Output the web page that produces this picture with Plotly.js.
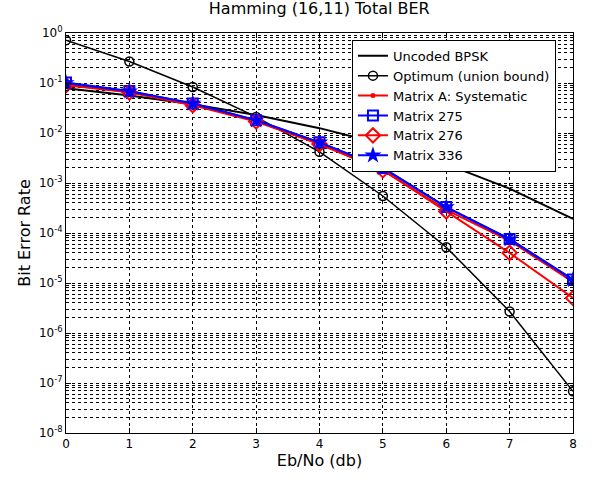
<!DOCTYPE html>
<html>
<head>
<meta charset="utf-8">
<script src="https://cdn.plot.ly/plotly-3.0.1.min.js"></script>
<style>html,body{margin:0;padding:0;background:#fff;}#chart{width:594px;height:479px;}</style>
</head>
<body>
<div id="chart"></div>
<script>
var ebno = [0, 1, 2, 3, 4, 5, 6, 7, 8];
var uncodedBPSK = [0.0786, 0.0563, 0.0375, 0.0229, 0.0125, 0.00595, 0.00239, 0.000773, 0.000191];
var optimumUnion = [0.72, 0.27, 0.083, 0.021, 0.0042, 0.00055, 0.000052, 0.0000027, 0.000000068];
var matrixA = [0.092, 0.066, 0.037, 0.0175, 0.006, 0.0018, 0.00029, 0.000070, 0.0000105];
var matrix275 = [0.102, 0.069, 0.039, 0.018, 0.0065, 0.0020, 0.00033, 0.000076, 0.0000118];
var matrix276 = [0.090, 0.065, 0.036, 0.017, 0.0060, 0.0018, 0.00027, 0.000040, 0.0000050];
var matrix336 = [0.100, 0.068, 0.039, 0.018, 0.0065, 0.0020, 0.00033, 0.000075, 0.0000115];
var yTickVals = [1, 0.1, 0.01, 0.001, 1e-4, 1e-5, 1e-6, 1e-7, 1e-8];
var yTickText = ['10<sup>0</sup>', '10<sup>-1</sup>', '10<sup>-2</sup>', '10<sup>-3</sup>', '10<sup>-4</sup>', '10<sup>-5</sup>', '10<sup>-6</sup>', '10<sup>-7</sup>', '10<sup>-8</sup>'];

var traces = [
  {x: ebno, y: uncodedBPSK, name: 'Uncoded BPSK', mode: 'lines', line: {color: '#000', width: 2}},
  {x: ebno, y: optimumUnion, name: 'Optimum (union bound)', mode: 'lines+markers', line: {color: '#000', width: 1.5}, marker: {symbol: 'circle-open', size: 9, color: '#000', line: {width: 1.5}}},
  {x: ebno, y: matrixA, name: 'Matrix A: Systematic', mode: 'lines+markers', line: {color: '#ff0000', width: 2}, marker: {symbol: 'circle', size: 5, color: '#ff0000'}},
  {x: ebno, y: matrix275, name: 'Matrix 275', mode: 'lines+markers', line: {color: '#0000ff', width: 2}, marker: {symbol: 'square-open', size: 10, color: '#0000ff', line: {width: 2}}},
  {x: ebno, y: matrix276, name: 'Matrix 276', mode: 'lines+markers', line: {color: '#ff0000', width: 2}, marker: {symbol: 'diamond-open', size: 11, color: '#ff0000', line: {width: 2}}},
  {x: ebno, y: matrix336, name: 'Matrix 336', mode: 'lines+markers', line: {color: '#0000ff', width: 2}, marker: {symbol: 'star', size: 13, color: '#0000ff'}}
];

var fam = 'DejaVu Sans, sans-serif';
var gridDash = '3px,3px';

var layout = {
  width: 594, height: 479,
  margin: {l: 66, r: 21, t: 33, b: 46},
  paper_bgcolor: '#fff', plot_bgcolor: '#fff',
  font: {family: fam, size: 12, color: '#000'},
  showlegend: true,
  title: {text: 'Hamming (16,11) Total BER', font: {family: fam, size: 16, color: '#000'}, x: 0.5375, xanchor: 'center', y: 0.995, yanchor: 'top'},
  xaxis: {
    range: [0, 8], dtick: 1, tick0: 0,
    showline: true, linecolor: '#000', linewidth: 1, mirror: 'ticks',
    ticks: 'inside', ticklen: 5, tickcolor: '#000',
    showgrid: true, gridcolor: '#000', griddash: gridDash, gridwidth: 1,
    zeroline: false,
    tickfont: {family: fam, size: 12, color: '#000'},
    title: {text: 'Eb/No (db)', font: {family: fam, size: 16, color: '#000'}, standoff: 3}
  },
  yaxis: {
    type: 'log', range: [-8, 0],
    tickvals: yTickVals, ticktext: yTickText,
    showline: true, linecolor: '#000', linewidth: 1, mirror: 'ticks',
    ticks: 'inside', ticklen: 5, tickcolor: '#000',
    showgrid: true, gridcolor: '#000', griddash: gridDash, gridwidth: 1,
    minor: {dtick: 'D1', showgrid: true, gridcolor: '#000', griddash: gridDash, gridwidth: 1, ticks: 'inside', ticklen: 3, tickcolor: '#000'},
    zeroline: false,
    tickfont: {family: fam, size: 12, color: '#000'},
    title: {text: 'Bit Error Rate', font: {family: fam, size: 16, color: '#000'}, standoff: 4}
  },
  legend: {
    x: 0.564, y: 0.983, xanchor: 'left', yanchor: 'top',
    bgcolor: '#fff', bordercolor: '#000', borderwidth: 1,
    font: {family: fam, size: 13, color: '#000'},
    tracegroupgap: 0, itemwidth: 30
  }
};

Plotly.newPlot('chart', traces, layout, {displayModeBar: false, staticPlot: true});
</script>
</body>
</html>
